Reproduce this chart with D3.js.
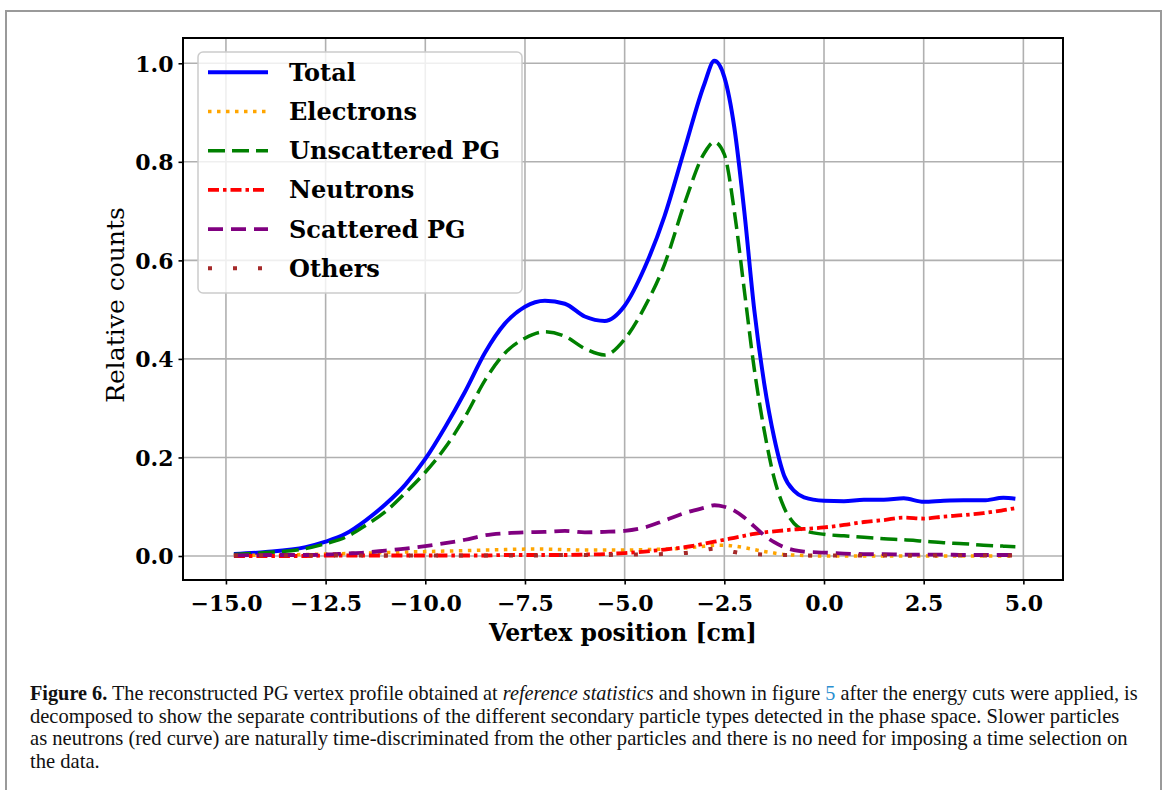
<!DOCTYPE html>
<html><head><meta charset="utf-8">
<script src="https://cdn.jsdelivr.net/npm/d3@7"></script>
<style>body{margin:0;background:#fff;} svg{display:block;}</style>
</head><body><svg id="c" width="1165" height="790"></svg>
<script>
// ---------------- data ----------------
const positions = [-14.8,-14,-13,-12.5,-12,-11.5,-11,-10.5,-10,-9.5,-9,-8.5,-8,-7.5,-7,-6.5,-6,-5.5,-5,-4.5,-4,-3.5,-3,-2.75,-2.5,-2.25,-2,-1.75,-1.5,-1.25,-1,-0.75,-0.5,0,0.5,1,1.5,2,2.5,3,3.5,4,4.5,4.8];
const total       = [0.004,0.008,0.018,0.029,0.045,0.072,0.105,0.145,0.197,0.262,0.334,0.413,0.472,0.506,0.518,0.512,0.486,0.477,0.508,0.585,0.69,0.825,0.958,1.005,0.972,0.87,0.70,0.50,0.35,0.24,0.163,0.132,0.119,0.112,0.111,0.114,0.114,0.117,0.110,0.112,0.113,0.113,0.118,0.116];
const electrons   = [0.001,0.002,0.003,0.004,0.005,0.006,0.007,0.008,0.009,0.010,0.011,0.012,0.013,0.014,0.014,0.013,0.012,0.012,0.012,0.013,0.014,0.016,0.020,0.022,0.022,0.020,0.017,0.013,0.009,0.006,0.003,0.002,0.001,0.0,0.0,0.0,0.0,0.0,0.0,0.0,0.0,0.0,0.0,0.0];
const unscattered = [0.003,0.007,0.015,0.025,0.038,0.062,0.090,0.128,0.170,0.220,0.283,0.357,0.412,0.442,0.455,0.446,0.421,0.408,0.440,0.505,0.592,0.715,0.818,0.840,0.815,0.70,0.54,0.38,0.255,0.158,0.098,0.066,0.052,0.044,0.041,0.038,0.035,0.033,0.030,0.027,0.025,0.022,0.020,0.019];
const neutrons    = [0.0,0.0,0.0,0.001,0.001,0.001,0.001,0.001,0.001,0.001,0.001,0.001,0.002,0.002,0.002,0.002,0.003,0.004,0.006,0.009,0.013,0.018,0.025,0.029,0.033,0.037,0.041,0.045,0.048,0.050,0.052,0.054,0.055,0.058,0.063,0.069,0.073,0.078,0.076,0.080,0.083,0.087,0.093,0.097];
const scattered   = [0.001,0.002,0.002,0.003,0.005,0.007,0.011,0.015,0.020,0.026,0.033,0.042,0.046,0.048,0.049,0.051,0.048,0.049,0.051,0.058,0.072,0.087,0.098,0.103,0.100,0.092,0.078,0.060,0.042,0.028,0.018,0.012,0.009,0.007,0.005,0.004,0.004,0.003,0.003,0.003,0.002,0.002,0.002,0.002];
const others      = [0.001,0.001,0.001,0.001,0.001,0.001,0.001,0.001,0.001,0.001,0.001,0.001,0.001,0.001,0.001,0.002,0.002,0.002,0.003,0.003,0.004,0.006,0.012,0.015,0.013,0.008,0.005,0.004,0.003,0.002,0.002,0.002,0.001,0.001,0.001,0.001,0.001,0.001,0.001,0.001,0.001,0.001,0.001,0.001];
const seriesNames = ["Total","Electrons","Unscattered PG","Neutrons","Scattered PG","Others"];
const xTicks = [-15,-12.5,-10,-7.5,-5,-2.5,0,2.5,5];
const yTicks = [0,0.2,0.4,0.6,0.8,1.0];
const xLabel = "Vertex position [cm]";
const yLabel = "Relative counts";
const captionLines = [
  [["b","Figure 6."],["n"," The reconstructed PG vertex profile obtained at "],["i","reference statistics"],["n"," and shown in figure "],["l","5"],["n"," after the energy cuts were applied, is"]],
  [["n","decomposed to show the separate contributions of the different secondary particle types detected in the phase space. Slower particles"]],
  [["n","as neutrons (red curve) are naturally time-discriminated from the other particles and there is no need for imposing a time selection on"]],
  [["n","the data."]]
];

// ---------------- styles ----------------
const styles = [
  {color:"#0000ff", width:4,   dash:null},
  {color:"#ffa500", width:3.5, dash:"3.5,5.5"},
  {color:"#008000", width:3.5, dash:"17,7"},
  {color:"#ff0000", width:3.8, dash:"11,4,3.5,4"},
  {color:"#800080", width:3.8, dash:"15,8"},
  {color:"#a52a2a", width:4,   dash:"4,21"}
];
const seriesData = [total, electrons, unscattered, neutrons, scattered, others];

const svg = d3.select("#c");
svg.append("rect").attr("width",1165).attr("height",790).attr("fill","#fff");
// outer frame
svg.append("rect").attr("x",6).attr("y",11).attr("width",1155).attr("height",820)
  .attr("fill","none").attr("stroke","#9a9a9a").attr("stroke-width",2);

const L=183, R=1063, T=38, B=580;
const x = d3.scaleLinear().domain([-16.077, 5.994]).range([L, R]);
const y = d3.scaleLinear().domain([-0.0487, 1.0513]).range([B, T]);

const FONT = "'DejaVu Serif', serif";

// grid
const g = svg.append("g");
g.selectAll(".gx").data(xTicks).join("line")
  .attr("x1",d=>x(d)).attr("x2",d=>x(d)).attr("y1",T).attr("y2",B)
  .attr("stroke","#b0b0b0").attr("stroke-width",1.6);
g.selectAll(".gy").data(yTicks).join("line")
  .attr("y1",d=>y(d)).attr("y2",d=>y(d)).attr("x1",L).attr("x2",R)
  .attr("stroke","#b0b0b0").attr("stroke-width",1.6);

// axes
const fmt = d3.format(".1f");
const xAxis = svg.append("g").attr("transform",`translate(0,${B})`)
  .call(d3.axisBottom(x).tickValues(xTicks).tickFormat(fmt).tickSize(4.5).tickPadding(6));
const yAxis = svg.append("g").attr("transform",`translate(${L},0)`)
  .call(d3.axisLeft(y).tickValues(yTicks).tickFormat(fmt).tickSize(4.5).tickPadding(5));
[xAxis,yAxis].forEach(a=>{
  a.select(".domain").remove();
  a.selectAll(".tick line").attr("stroke","#000").attr("stroke-width",1.6);
  a.selectAll(".tick text").attr("fill","#000").style("font-family",FONT)
    .style("font-weight","bold").style("font-size","22px");
});
xAxis.selectAll(".tick text").attr("dy","0.95em");
yAxis.selectAll(".tick text").attr("dy","0.36em");

// lines
const line = d3.line().x((d,i)=>x(positions[i])).y(d=>y(d)).curve(d3.curveMonotoneX);
const lg = svg.append("g");
seriesData.forEach((vals,i)=>{
  const s = styles[i];
  lg.append("path").datum(vals).attr("d",line).attr("fill","none")
    .attr("stroke",s.color).attr("stroke-width",s.width)
    .attr("stroke-dasharray",s.dash).attr("stroke-linejoin","round");
});

// spines
svg.append("rect").attr("x",L).attr("y",T).attr("width",R-L).attr("height",B-T)
  .attr("fill","none").attr("stroke","#000").attr("stroke-width",2);

// legend
const leg = svg.append("g");
leg.append("rect").attr("x",198).attr("y",52).attr("width",324).attr("height",241)
  .attr("rx",5).attr("fill","#fff").attr("fill-opacity",0.8)
  .attr("stroke","#cccccc").attr("stroke-width",1.5);
seriesNames.forEach((name,i)=>{
  const cy = 72.3 + i*39.2;
  const s = styles[i];
  leg.append("line").attr("x1",208).attr("x2",268).attr("y1",cy).attr("y2",cy)
    .attr("stroke",s.color).attr("stroke-width",s.width).attr("stroke-dasharray",s.dash);
  leg.append("text").attr("x",289).attr("y",cy+8.5).text(name)
    .style("font-family",FONT).style("font-weight","bold").style("font-size","24px");
});

// axis labels
svg.append("text").attr("x",(L+R)/2).attr("y",641).attr("text-anchor","middle")
  .text(xLabel).style("font-family",FONT).style("font-weight","bold").style("font-size","23.5px");
svg.append("text").attr("transform","translate(124,305) rotate(-90)").attr("text-anchor","middle")
  .text(yLabel).style("font-family",FONT).style("font-size","25px");

// caption
const capTargets = [1108, 1090, 1098, null];
const capBase = [700, 722.7, 745.4, 768];
let lastScale = 0.88;
captionLines.forEach((parts,li)=>{
  const grp = svg.append("g");
  const t = grp.append("text").attr("x",0).attr("y",0)
    .style("font-family","'Liberation Serif', serif").style("font-size","21px").attr("fill","#111");
  parts.forEach(([k,s])=>{
    const ts = t.append("tspan").text(s);
    if(k==="b") ts.style("font-weight","bold");
    if(k==="i") ts.style("font-style","italic");
    if(k==="l") ts.attr("fill","#2b8fd0");
  });
  const w = t.node().getComputedTextLength();
  let sx = lastScale;
  if(capTargets[li]) { sx = capTargets[li]/w; lastScale = sx; }
  grp.attr("transform",`translate(30,${capBase[li]}) scale(${sx},1)`);
});
</script></body></html>
